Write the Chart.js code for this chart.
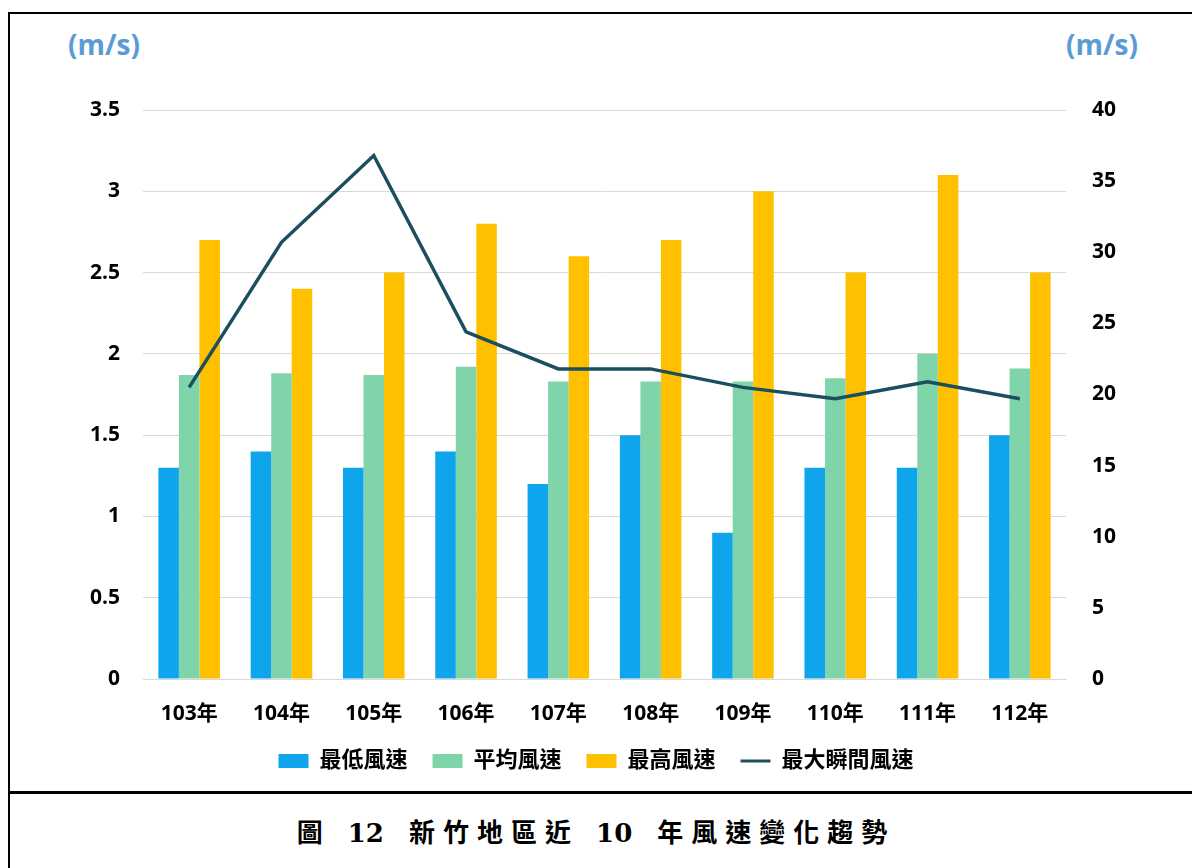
<!DOCTYPE html>
<html lang="zh-Hant">
<head>
    <meta charset="UTF-8">
    <title>新竹地區近10年風速變化趨勢</title>
    <script src="https://cdn.jsdelivr.net/npm/chart.js"></script>
    <style>
        body {
            margin: 0;
            padding: 0;
            background-color: #ffffff;
            width: 1192px;
            height: 868px;
            overflow: hidden;
            position: relative;
            font-family: 'Open Sans', 'Noto Sans CJK TC', sans-serif;
        }

        .frame {
            position: absolute;
            left: 8px;
            top: 12px;
            width: 1220px;
            height: 900px;
            border: 2px solid #000;
            box-sizing: border-box;
        }

        .divider {
            position: absolute;
            left: 8px;
            top: 791px;
            width: 1200px;
            height: 3px;
            background-color: #000;
        }

        .unit {
            position: absolute;
            top: 25px;
            color: #5b9bd5;
            font-size: 28px;
            font-weight: bold;
        }

        .caption {
            position: absolute;
            left: 0;
            top: 812px;
            width: 1192px;
            text-align: center;
            font-family: 'DejaVu Serif', 'Liberation Serif', 'Noto Sans CJK TC', serif;
            font-size: 26px;
            font-weight: bold;
            letter-spacing: 8px;
            color: #000;
        }

        .caption .num {
            letter-spacing: 0;
            margin-right: 8px;
        }

        #chartBox {
            position: absolute;
            left: 0;
            top: 0;
            width: 1192px;
            height: 790px;
        }
    </style>
</head>
<body>
    <div class="frame"></div>
    <div class="divider"></div>
    <div class="unit" style="left: 68px;">(m/s)</div>
    <div class="unit" style="left: 1066px;">(m/s)</div>

    <div id="chartBox">
        <canvas id="chart"></canvas>
    </div>

    <div class="caption">圖 <span class="num">12</span> 新竹地區近 <span class="num">10</span> 年風速變化趨勢</div>

    <script>
        // data
        const years = ['103年', '104年', '105年', '106年', '107年', '108年', '109年', '110年', '111年', '112年'];
        const minSpeed = [1.3, 1.4, 1.3, 1.4, 1.2, 1.5, 0.9, 1.3, 1.3, 1.5];
        const avgSpeed = [1.87, 1.88, 1.87, 1.92, 1.83, 1.83, 1.83, 1.85, 2.0, 1.91];
        const maxSpeed = [2.7, 2.4, 2.5, 2.8, 2.6, 2.7, 3.0, 2.5, 3.1, 2.5];
        const gustSpeed = [20.5, 30.7, 36.8, 24.4, 21.8, 21.8, 20.5, 19.7, 20.9, 19.7];

        const fontFamily = "'Open Sans', 'Noto Sans CJK TC', sans-serif";
        const tickFont = { family: fontFamily, size: 21, weight: 'bold' };

        const ctx = document.getElementById('chart').getContext('2d');
        new Chart(ctx, {
            data: {
                labels: years,
                datasets: [
                    {
                        type: 'bar',
                        label: '最低風速',
                        data: minSpeed,
                        backgroundColor: '#0ea5ec',
                        yAxisID: 'y',
                        order: 1
                    },
                    {
                        type: 'bar',
                        label: '平均風速',
                        data: avgSpeed,
                        backgroundColor: '#80d4aa',
                        yAxisID: 'y',
                        order: 1
                    },
                    {
                        type: 'bar',
                        label: '最高風速',
                        data: maxSpeed,
                        backgroundColor: '#ffc000',
                        yAxisID: 'y',
                        order: 1
                    },
                    {
                        type: 'line',
                        label: '最大瞬間風速',
                        data: gustSpeed,
                        borderColor: '#1b4f5f',
                        backgroundColor: '#1b4f5f',
                        borderWidth: 3.5,
                        pointRadius: 0,
                        tension: 0,
                        yAxisID: 'y1',
                        order: 0 // keep the line above the bars
                    }
                ]
            },
            options: {
                responsive: true,
                maintainAspectRatio: false,
                animation: false,
                categoryPercentage: 0.667,
                barPercentage: 1.0,
                layout: {
                    padding: { top: 110, left: 0, right: 0, bottom: 8 }
                },
                plugins: {
                    tooltip: { enabled: false },
                    legend: {
                        position: 'bottom',
                        labels: {
                            usePointStyle: true,
                            pointStyleWidth: 30,
                            boxHeight: 14,
                            padding: 25,
                            color: '#000',
                            font: { family: fontFamily, size: 22, weight: 'bold' },
                            sort: (a, b) => a.datasetIndex - b.datasetIndex,
                            generateLabels: (chart) => {
                                const items = Chart.defaults.plugins.legend.labels.generateLabels(chart);
                                items.forEach(item => {
                                    const ds = chart.data.datasets[item.datasetIndex];
                                    if (ds.type === 'line') {
                                        item.pointStyle = 'line';
                                        item.lineWidth = 3;
                                        item.strokeStyle = ds.borderColor;
                                    } else {
                                        item.pointStyle = 'rect';
                                        item.lineWidth = 0;
                                        item.strokeStyle = ds.backgroundColor;
                                    }
                                });
                                return items;
                            }
                        }
                    }
                },
                scales: {
                    x: {
                        grid: { display: false, drawTicks: false },
                        border: { display: true, color: '#d9d9d9' },
                        ticks: {
                            padding: 22,
                            color: '#000',
                            font: tickFont
                        },
                        afterFit: (scale) => { scale.height = 46; }
                    },
                    y: {
                        position: 'left',
                        min: 0,
                        max: 3.5,
                        ticks: {
                            stepSize: 0.5,
                            padding: 23,
                            color: '#000',
                            font: tickFont,
                            callback: (v) => String(v)
                        },
                        grid: { color: '#d9d9d9', drawTicks: false },
                        border: { display: false },
                        afterFit: (scale) => { scale.width = 143; }
                    },
                    y1: {
                        position: 'right',
                        min: 0,
                        max: 40,
                        ticks: {
                            stepSize: 5,
                            padding: 26,
                            color: '#000',
                            font: tickFont,
                            callback: (v) => String(v)
                        },
                        grid: { display: false, drawTicks: false },
                        border: { display: false },
                        afterFit: (scale) => { scale.width = 126; }
                    }
                }
            }
        });
    </script>
</body>
</html>
